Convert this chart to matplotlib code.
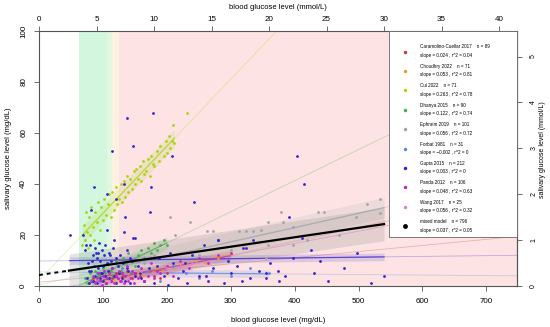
import matplotlib.pyplot as plt
import numpy as np
from matplotlib.patches import Rectangle

plt.rcParams['font.family'] = ['Liberation Sans', 'DejaVu Sans']

# студии: название, n, наклон, r^2, цвет
studies = ['Caramolino-Cuellar 2017', 'Choudhry 2022', 'Cui 2022', 'Dhanya 2015',
           'Ephraim 2019', 'Forbat 1981', 'Gupta 2015', 'Panda 2012', 'Wang 2017']
n_obs = [89, 71, 71, 90, 101, 31, 212, 106, 25]
slopes = [0.024, 0.053, 0.263, 0.122, 0.056, -0.002, 0.003, 0.048, 0.056]
slope_txt = ['0.024', '0.053', '0.263', '0.122', '0.056', '\u22120.002', '0.003', '0.048', '0.056']
r2_txt = ['0.04', '0.81', '0.78', '0.74', '0.72', '0', '0', '0.63', '0.32']
intercepts = [1.5, -3.5, 2.2, -7.5, 0.5, 5.5, 9.8, -2.5, -5.0]
x_ranges = [(85, 200), (100, 300), (68, 212), (72, 200), (100, 540),
            (90, 360), (48, 540), (82, 300), (95, 240)]
colors = ['#c83c3c', '#e3a12f', '#a8d412', '#3fb24a', '#9aa7a7',
          '#5b86e3', '#3323cf', '#c526c9', '#e07fd8']

mixed_n = 796
mixed_slope = 0.037
mixed_r2 = '0.05'
mixed_intercept = 4.3
mixed_range = (47, 540)
mixed_band = 6.5

# точки (mg/dL)
cara_x = [85, 92, 98, 104, 110, 115, 120, 126, 132, 138, 145, 150, 158, 165, 172, 180, 190, 200]
cara_y = [3, 5, 2, 4, 6, 3, 5, 2, 4, 6, 3, 5, 4, 2, 6, 4, 3, 5]

chou_x = [100, 110, 118, 125, 132, 140, 148, 155, 162, 170, 178, 185, 192, 200, 210, 220, 230, 245, 260, 280, 300]
chou_y = [2, 3.5, 2, 4, 3, 5, 4, 5.5, 4.5, 6, 5.5, 7, 6, 8, 7, 9, 8.5, 10, 9.5, 11, 12.5]

cui_x = [68, 70, 72, 73, 75, 76, 78, 80, 82, 84, 86, 88, 90, 92, 95, 97, 100, 102, 105, 108, 110,
         112, 115, 118, 120, 122, 125, 128, 130, 133, 135, 138, 140, 142, 145, 148, 150, 152, 155,
         158, 160, 163, 165, 168, 170, 173, 175, 178, 180, 185, 188, 190, 195, 198, 200, 203, 205,
         208, 210, 212, 232]
cui_y = [16, 24, 18, 29, 21, 15, 27, 20, 31, 23, 18, 29, 25, 33, 22, 31, 26, 34, 28, 32, 36,
         27, 37, 30, 39, 32, 34, 40, 33, 41, 35, 43, 37, 42, 38, 45, 40, 46, 42,
         47, 41, 49, 44, 45, 50, 43, 51, 48, 47, 53, 49, 55, 51, 57, 52, 59, 54,
         57, 63, 56, 68]

dhan_x = [72, 76, 80, 84, 88, 92, 96, 100, 104, 108, 112, 116, 120, 124, 128, 132, 136, 140, 145,
          150, 155, 160, 165, 170, 175, 180, 185, 190, 195, 200]
dhan_y = [3, 1, 5, 2, 6, 4, 2, 7, 5, 9, 6, 4, 10, 8, 6, 11, 9, 13, 10, 8, 12, 14, 11, 15, 13, 17,
          14, 16, 18, 16]

ephr_x = [105, 120, 135, 150, 165, 180, 195, 205, 213, 236, 250, 263, 273, 300, 313, 324, 335, 348,
          356, 358, 358, 379, 382, 397, 397, 420, 436, 446, 470, 496, 513, 533, 533]
ephr_y = [6, 8, 5, 10, 9, 12, 8, 27, 20, 25, 12, 21.6, 21.6, 14, 21.6, 21.6, 21.6, 22, 11, 25, 16,
          29, 25, 23, 16, 18, 29, 29, 20, 27, 32, 34, 28.5]

forb_x = [90, 110, 130, 150, 170, 190, 210, 230, 250, 270, 300, 330, 360]
forb_y = [5, 3, 7, 4, 6, 2, 8, 5, 3, 6, 4, 7, 5]

gupt_x = [72, 75, 77, 79, 80, 82, 84, 85, 86, 88, 88, 90, 91, 92, 93, 95, 96, 97, 98, 100, 100,
          102, 103, 104, 105, 106, 108, 109, 110, 112, 113, 115, 116, 118, 120, 121, 123, 125, 127,
          130, 132, 135, 138, 140, 143, 146, 150, 155, 160,
          165, 172, 180, 188, 195, 202, 210, 218, 225, 232, 240, 250, 258, 265, 272, 280, 290, 300,
          310, 320, 330, 345, 356, 356, 374, 375, 397, 412, 426, 431, 452, 478, 497, 520, 540,
          48, 69, 81, 86, 106, 107, 115, 120, 133, 133, 134, 138, 147, 147, 174, 176, 178, 208,
          243, 403, 414, 391, 151, 94, 73, 117, 280, 335, 324,
          78, 83, 89, 99, 111, 124, 137, 142, 158, 185, 205, 228, 262, 295, 318, 362, 385, 440]
gupt_y = [14, 3, 9, 1, 16, 6, 12, 2, 8, 15, 4, 11, 1, 7, 13, 3, 10, 5, 14, 2, 8,
          12, 4, 16, 1, 9, 6, 13, 3, 10, 2, 7, 15, 4, 11, 1, 8, 5, 12,
          3, 9, 2, 14, 6, 1, 10, 4, 8, 3,
          2, 7, 1, 11, 4, 0.5, 9, 3, 6, 1, 12, 4, 16, 2, 7, 18, 1, 5,
          8, 15, 3, 6, 5, 3, 6, 2, 11, 19, 14, 5, 2, 7, 13, 1, 4,
          20, 20, 30, 39, 36, 22, 53, 34, 40, 21, 27, 66, 55, 19, 29, 39, 68, 51,
          33, 51, 40, 27, 19, 17, 16, 18, 18, 18, 15,
          6, 10, 13, 5, 12, 3, 7, 11, 5, 8, 13, 9, 4, 10, 2, 9, 4, 10]

pand_x = [82, 85, 88, 90, 93, 95, 98, 100, 102, 105, 107, 110, 112, 115, 118, 120, 123, 125, 128,
          130, 133, 135, 138, 140, 143, 145, 148, 150, 155, 160, 165, 170, 175, 180, 185, 190, 200,
          210, 220, 235, 250, 265, 280, 300]
pand_y = [2, 4, 1, 3, 5, 2, 0.5, 4, 6, 1, 3, 5, 2, 7, 1, 4, 3, 6, 2, 5, 1, 4, 8, 2, 3, 6, 1, 5, 3,
          7, 2, 4, 9, 3, 6, 5, 8, 4, 10, 7, 11, 9, 12, 13]

wang_x = [95, 110, 125, 140, 160, 180, 200, 220, 240]
wang_y = [1, 2, 4, 3, 6, 5, 7, 8, 9]

points = [(cara_x, cara_y), (chou_x, chou_y), (cui_x, cui_y), (dhan_x, dhan_y), (ephr_x, ephr_y),
          (forb_x, forb_y), (gupt_x, gupt_y), (pand_x, pand_y), (wang_x, wang_y)]
band_half = [1.5, 2.0, 3.5, 2.5, 4.0, 1.5, 1.5, 2.0, 2.5]

W, H = 550, 327
fig = plt.figure(figsize=(W / 100, H / 100), dpi=100)
ax = fig.add_axes([39 / W, 1 - 286 / H, (517 - 39) / W, (286 - 31) / H])

xmax = 748
ax.set_xlim(0, xmax)
ax.set_ylim(0, 100)

# зоны гликемии
ax.axvspan(63, 110, color='#d3f6de', lw=0, zorder=0)
ax.axvspan(106, 114, color='#e4f6df', lw=0, zorder=0)
ax.axvspan(114, 125, color='#fdf1e1', lw=0, zorder=0)
ax.axvspan(125, xmax, color='#fde3e3', lw=0, zorder=0)

xx_all = np.array([0, xmax])
for k in range(len(studies)):
    a, b = slopes[k], intercepts[k]
    ax.plot(xx_all, a * xx_all + b, color=colors[k], lw=0.6, alpha=0.3, zorder=1)
    x0, x1 = x_ranges[k]
    xs = np.array([x0, x1])
    ax.fill_between(xs, a * xs + b - band_half[k], a * xs + b + band_half[k],
                    color=colors[k], alpha=0.15, lw=0, zorder=1)
    ax.plot(xs, a * xs + b, color=colors[k], lw=0.9, alpha=0.7, zorder=2)

# смешанная модель
xs = np.array(mixed_range)
ym = mixed_intercept + mixed_slope * xs
ax.fill_between(xs, ym - mixed_band, ym + mixed_band, color='#8c8c8c', alpha=0.22, lw=0, zorder=1)

for k in range(len(studies)):
    px, py = points[k]
    ax.scatter(px, py, s=4, color=colors[k], lw=0, zorder=3)

ax.plot(xs, ym, color='black', lw=1.6, zorder=4)
xd = np.array([0, mixed_range[0]])
ax.plot(xd, mixed_intercept + mixed_slope * xd, color='black', lw=1.4,
        dashes=(2, 2), zorder=4)

for s in ax.spines.values():
    s.set_color('#555555')
    s.set_linewidth(0.8)

ax.set_xticks(range(0, 701, 100))
ax.set_yticks(range(0, 101, 20))
ax.tick_params(axis='both', direction='out', length=3.5, width=0.6, color='#555555',
               labelsize=5.8, pad=5)
for lbl in ax.get_yticklabels():
    lbl.set_rotation(90)
    lbl.set_va('center')
ax.set_xlabel('blood glucose level (mg/dL)', fontsize=5.5, labelpad=9)
ax.set_ylabel('salivary glucose level (mg/dL)', fontsize=5.5, labelpad=6)

top = ax.secondary_xaxis('top', functions=(lambda v: v / 18.0, lambda v: v * 18.0))
top.set_xticks(range(0, 41, 5))
top.tick_params(direction='out', length=3.5, width=0.6, color='#555555', labelsize=5.8, pad=2)
top.spines['top'].set_visible(False)
top.set_xlabel('blood glucose level (mmol/L)', fontsize=5.5, labelpad=5)

ax2 = ax.twinx()
ax2.set_ylim(0, 100 / 18.0)
ax2.set_yticks(range(0, 6))
for nm in ['top', 'bottom', 'left']:
    ax2.spines[nm].set_visible(False)
ax2.spines['right'].set_color('#555555')
ax2.spines['right'].set_linewidth(0.8)
ax2.tick_params(direction='out', length=3.5, width=0.6, color='#555555', labelsize=5, pad=6)
for lbl in ax2.get_yticklabels():
    lbl.set_rotation(90)
    lbl.set_va('center')
fig.text(542 / W, 1 - 150 / H, 'salivary glucose level (mmol/L)', fontsize=5,
         rotation=90, ha='center', va='center')

# легенда
fig.add_artist(Rectangle((389 / W, 1 - 237 / H), (517 - 389) / W, (237 - 31) / H,
                         transform=fig.transFigure, facecolor='white',
                         edgecolor='#666666', lw=0.6, zorder=5))
labels1 = [f'{s}    n = {n}' for s, n in zip(studies, n_obs)] + [f'mixed model    n = {mixed_n}']
labels2 = [f'slope = {s} , r^2 = {r}' for s, r in zip(slope_txt, r2_txt)] + \
          [f'slope = {mixed_slope} , r^2 = {mixed_r2}']
leg_colors = colors + ['black']
for i in range(len(labels1)):
    yy = 47 + 19.4 * i
    fig.text(420 / W, 1 - yy / H, labels1[i], fontsize=3.3, va='center', ha='left', zorder=6)
    fig.text(420 / W, 1 - (yy + 8.5) / H, labels2[i], fontsize=3.3, va='center', ha='left', zorder=6)
    ms = 2.5 if i < len(studies) else 3.5
    fig.add_artist(plt.Line2D([405 / W], [1 - (yy + 4.5) / H], marker='o', ms=ms, lw=0,
                              color=leg_colors[i], markeredgewidth=0,
                              transform=fig.transFigure, zorder=6))

fig.savefig('out.png', dpi=100)
